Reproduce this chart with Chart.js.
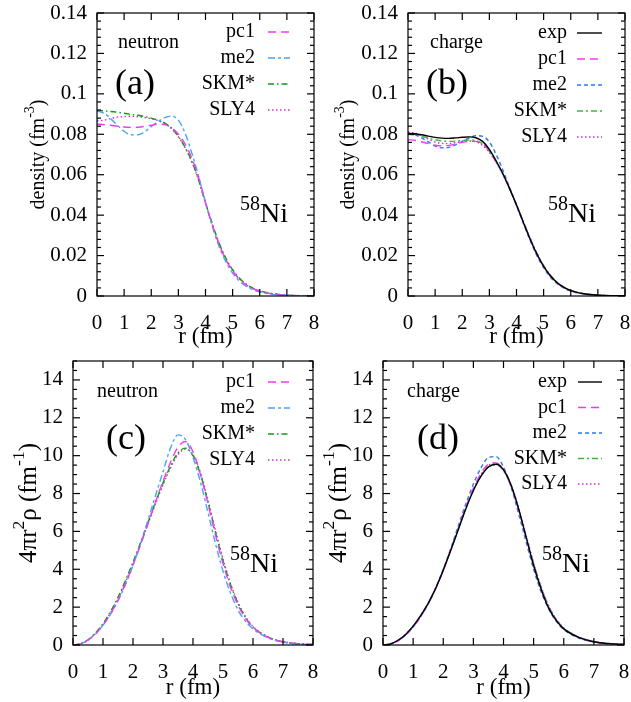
<!DOCTYPE html>
<html>
<head>
<meta charset="utf-8">
<script src="https://cdn.jsdelivr.net/npm/chart.js@4.4.1/dist/chart.umd.min.js"></script>
<style>
  body { margin: 0; background: #fff; }
  #wrap { position: relative; width: 631px; height: 702px; }
  canvas { position: absolute; }
</style>
</head>
<body>
<div id="wrap">
  <canvas id="pa" width="326" height="351" style="left:0;top:0"></canvas>
  <canvas id="pb" width="315" height="351" style="left:316px;top:0"></canvas>
  <canvas id="pc" width="326" height="351" style="left:0;top:351px"></canvas>
  <canvas id="pd" width="315" height="351" style="left:316px;top:351px"></canvas>
</div>
<script>
// radius grid (fm)
const r = [0, 0.25, 0.5, 0.75, 1, 1.25, 1.5, 1.75, 2, 2.25, 2.5, 2.75, 3, 3.25, 3.5, 3.75,
           4, 4.25, 4.5, 4.75, 5, 5.25, 5.5, 5.75, 6, 6.5, 7, 7.5, 8];

// (a) neutron density
const aPc1 = [0.0850, 0.0848, 0.0845, 0.0840, 0.0836, 0.0834, 0.0835, 0.0839, 0.0845, 0.0850, 0.0848, 0.0832, 0.0800, 0.0752, 0.0680, 0.0585,
              0.0462, 0.0352, 0.0255, 0.0180, 0.0123, 0.0083, 0.0055, 0.0036, 0.0023, 0.0009, 0.00035, 0.00013, 0.00005];
const aMe2 = [0.0915, 0.0905, 0.0878, 0.0845, 0.0815, 0.0798, 0.0797, 0.0812, 0.0838, 0.0863, 0.0882, 0.0890, 0.0870, 0.0805, 0.0705, 0.0590,
              0.0462, 0.0345, 0.0245, 0.0170, 0.0113, 0.0074, 0.0048, 0.0031, 0.0020, 0.0008, 0.0003, 0.0001, 0.00004];
const aSkm = [0.0917, 0.0916, 0.0913, 0.0909, 0.0904, 0.0899, 0.0894, 0.0888, 0.0880, 0.0870, 0.0855, 0.0830, 0.0790, 0.0735, 0.0665, 0.0572,
              0.0460, 0.0357, 0.0262, 0.0187, 0.0130, 0.0088, 0.0059, 0.0039, 0.0026, 0.0011, 0.00045, 0.00018, 0.00007];
const aSly4 = [0.0866, 0.0870, 0.0878, 0.0885, 0.0888, 0.0889, 0.0887, 0.0883, 0.0877, 0.0868, 0.0853, 0.0828, 0.0788, 0.0732, 0.0662, 0.0570,
               0.0460, 0.0355, 0.0260, 0.0185, 0.0127, 0.0086, 0.0057, 0.0037, 0.0024, 0.0010, 0.0004, 0.00015, 0.00006];

// (b) charge density
const bExp = [0.0805, 0.0803, 0.0798, 0.0791, 0.0785, 0.0781, 0.0780, 0.0782, 0.0785, 0.0787, 0.0783, 0.0765, 0.0725, 0.0668, 0.0605, 0.0530,
              0.0450, 0.0365, 0.0282, 0.0208, 0.0147, 0.0100, 0.0066, 0.0043, 0.0027, 0.0011, 0.0004, 0.00016, 0.00006];
const bPc1 = [0.0773, 0.0770, 0.0763, 0.0754, 0.0746, 0.0743, 0.0745, 0.0752, 0.0760, 0.0765, 0.0765, 0.0752, 0.0718, 0.0665, 0.0603, 0.0530,
              0.0450, 0.0366, 0.0283, 0.0208, 0.0146, 0.0098, 0.0064, 0.0041, 0.0026, 0.0010, 0.0004, 0.00015, 0.00005];
const bMe2 = [0.0805, 0.0798, 0.0782, 0.0762, 0.0742, 0.0733, 0.0735, 0.0748, 0.0765, 0.0782, 0.0793, 0.0790, 0.0762, 0.0700, 0.0622, 0.0535,
              0.0447, 0.0360, 0.0276, 0.0200, 0.0140, 0.0093, 0.0061, 0.0039, 0.0025, 0.0010, 0.0004, 0.00014, 0.00005];
const bSkm = [0.0800, 0.0797, 0.0790, 0.0781, 0.0773, 0.0767, 0.0765, 0.0766, 0.0769, 0.0772, 0.0769, 0.0752, 0.0716, 0.0663, 0.0602, 0.0531,
              0.0452, 0.0369, 0.0287, 0.0213, 0.0151, 0.0103, 0.0068, 0.0044, 0.0028, 0.0011, 0.00045, 0.00018, 0.00007];
const bSly4 = [0.0812, 0.0806, 0.0792, 0.0776, 0.0762, 0.0755, 0.0754, 0.0758, 0.0764, 0.0767, 0.0763, 0.0745, 0.0710, 0.0660, 0.0600, 0.0530,
               0.0451, 0.0368, 0.0286, 0.0212, 0.0150, 0.0102, 0.0067, 0.0043, 0.0028, 0.0011, 0.00045, 0.00017, 0.00006];

// (c) neutron 4 pi r^2 rho
const cPc1 = [0, 0.06, 0.25, 0.58, 1.05, 1.65, 2.38, 3.25, 4.22, 5.28, 6.40, 7.55, 8.65, 9.65, 10.45, 10.75,
              10.20, 9.0, 7.45, 5.8, 4.3, 3.05, 2.1, 1.4, 0.93, 0.40, 0.16, 0.06, 0.02];
const cMe2 = [0, 0.07, 0.27, 0.6, 1.05, 1.62, 2.33, 3.2, 4.2, 5.35, 6.6, 7.9, 9.15, 10.4, 11.1, 10.85,
              9.9, 8.6, 7.0, 5.35, 3.9, 2.75, 1.85, 1.25, 0.85, 0.38, 0.15, 0.06, 0.02];
const cSkm = [0, 0.07, 0.28, 0.64, 1.13, 1.76, 2.52, 3.40, 4.38, 5.40, 6.47, 7.55, 8.55, 9.45, 10.15, 10.40,
              10.0, 9.0, 7.55, 5.95, 4.45, 3.20, 2.20, 1.45, 0.95, 0.42, 0.17, 0.07, 0.03];
const cSly4 = [0, 0.06, 0.26, 0.6, 1.08, 1.7, 2.45, 3.33, 4.3, 5.33, 6.4, 7.45, 8.45, 9.35, 10.05, 10.35,
               10.05, 9.1, 7.65, 6.05, 4.55, 3.25, 2.25, 1.5, 0.98, 0.43, 0.18, 0.07, 0.03];

// (d) charge 4 pi r^2 rho
const dExp = [0, 0.06, 0.25, 0.56, 1.0, 1.55, 2.2, 3.0, 3.95, 5.0, 6.1, 7.2, 8.15, 8.9, 9.4, 9.55,
              9.25, 8.45, 7.2, 5.7, 4.2, 2.95, 1.95, 1.3, 0.85, 0.4, 0.17, 0.07, 0.03];
const dPc1 = [0, 0.05, 0.22, 0.52, 0.95, 1.5, 2.17, 2.97, 3.95, 5.02, 6.15, 7.28, 8.28, 9.05, 9.55, 9.62,
              9.25, 8.4, 7.15, 5.7, 4.25, 3.0, 2.0, 1.33, 0.87, 0.4, 0.17, 0.07, 0.03];
const dMe2 = [0, 0.05, 0.22, 0.52, 0.95, 1.5, 2.18, 3.0, 4.0, 5.1, 6.3, 7.45, 8.5, 9.35, 9.9, 9.95,
              9.4, 8.35, 6.95, 5.45, 4.0, 2.8, 1.9, 1.25, 0.82, 0.37, 0.16, 0.06, 0.02];
const dSkm = [0, 0.06, 0.25, 0.56, 1.0, 1.55, 2.22, 3.02, 3.98, 5.03, 6.13, 7.22, 8.2, 8.95, 9.42, 9.52,
              9.2, 8.4, 7.2, 5.75, 4.3, 3.05, 2.05, 1.35, 0.9, 0.42, 0.18, 0.08, 0.03];
const dSly4 = [0, 0.06, 0.24, 0.55, 0.99, 1.54, 2.2, 3.0, 3.97, 5.02, 6.13, 7.23, 8.22, 9.0, 9.48, 9.6,
               9.28, 8.48, 7.25, 5.8, 4.33, 3.07, 2.07, 1.37, 0.9, 0.42, 0.18, 0.08, 0.03];

// tick values
const xTicks = [0, 1, 2, 3, 4, 5, 6, 7, 8];
const densTicks = [0, 0.02, 0.04, 0.06, 0.08, 0.1, 0.12, 0.14];
const radTicks = [0, 2, 4, 6, 8, 10, 12, 14];

const SERIF = '"Liberation Serif", "Times New Roman", serif';

// line styles
const st = {
  exp:  { color: '#000000', dash: [] },
  pc1:  { color: '#f03cf0', dash: [8, 5] },
  me2a: { color: '#4aa3f5', dash: [7, 3, 3, 3] },
  me2b: { color: '#2a7ae8', dash: [4, 3] },
  skma: { color: '#109a10', dash: [6, 3, 1.5, 3] },
  skmb: { color: '#38bb38', dash: [6, 3, 2, 3] },
  sly4: { color: '#cc30cc', dash: [1.5, 2.5] }
};

function series(label, vals, s) {
  return {
    label: label,
    data: r.map((x, i) => ({ x: x, y: vals[i] })),
    borderColor: s.color,
    borderDash: s.dash,
    borderWidth: 1.4,
    pointRadius: 0,
    fill: false,
    cubicInterpolationMode: 'monotone'
  };
}

function font(sz) { return sz + 'px ' + SERIF; }

// text with superscript, left aligned at x, baseline y
function supText(ctx, parts, x, y, size) {
  let cx = x;
  parts.forEach(p => {
    const sz = p.sup ? size * 0.7 : size;
    ctx.font = font(sz);
    ctx.fillText(p.t, cx, p.sup ? y - size * 0.42 : y);
    cx += ctx.measureText(p.t).width;
  });
  return cx - x;
}
function partsWidth(ctx, parts, size) {
  let w = 0;
  parts.forEach(p => { ctx.font = font(p.sup ? size * 0.7 : size); w += ctx.measureText(p.t).width; });
  return w;
}

const decor = {
  id: 'decor',
  afterDraw(chart) {
    const p = chart.options.plugins.decor;
    const { ctx, chartArea: ca } = chart;
    const xs = chart.scales.x, ys = chart.scales.y;
    ctx.save();
    ctx.strokeStyle = '#000';
    ctx.lineWidth = 1.2;
    ctx.setLineDash([]);
    const seg = (x0, y0, x1, y1) => { ctx.beginPath(); ctx.moveTo(x0, y0); ctx.lineTo(x1, y1); ctx.stroke(); };
    xTicks.forEach(v => {
      const px = xs.getPixelForValue(v);
      seg(px, ca.bottom, px, ca.bottom - 7);
      seg(px, ca.top, px, ca.top + 7);
    });
    for (let i = 0; i * p.minor <= ys.max + 1e-9; i++) {
      const py = ys.getPixelForValue(i * p.minor);
      const len = (i % p.perMajor === 0) ? 7 : 4;
      seg(ca.left, py, ca.left + len, py);
      seg(ca.right, py, ca.right - len, py);
    }
    ctx.strokeRect(ca.left, ca.top, ca.right - ca.left, ca.bottom - ca.top);

    ctx.fillStyle = '#000';
    // y title, rotated
    ctx.save();
    ctx.translate(p.yTitle.x, (ca.top + ca.bottom) / 2);
    ctx.rotate(-Math.PI / 2);
    ctx.textBaseline = 'middle';
    ctx.textAlign = 'left';
    const w = partsWidth(ctx, p.yTitle.parts, p.yTitle.size);
    supText(ctx, p.yTitle.parts, -w / 2, p.yTitle.size * 0.3, p.yTitle.size);
    ctx.restore();

    ctx.textBaseline = 'middle';
    ctx.textAlign = 'left';
    ctx.font = font(20);
    ctx.fillText(p.kind, p.kindPos[0], p.kindPos[1]);
    ctx.textAlign = 'center';
    ctx.font = font(36);
    ctx.fillText(p.tag, p.tagPos[0], p.tagPos[1]);

    // nucleus label
    ctx.textAlign = 'left';
    ctx.textBaseline = 'alphabetic';
    ctx.font = font(20);
    ctx.fillText('58', p.nuc[0], p.nuc[1] - 12);
    const w58 = ctx.measureText('58').width;
    ctx.font = font(28);
    ctx.fillText('Ni', p.nuc[0] + w58, p.nuc[1]);

    // key
    ctx.textBaseline = 'middle';
    ctx.font = font(20);
    chart.data.datasets.forEach((ds, i) => {
      const yy = p.key.y0 + i * p.key.dy;
      ctx.textAlign = 'right';
      ctx.fillStyle = '#000';
      ctx.fillText(ds.label, p.key.tx, yy);
      ctx.strokeStyle = ds.borderColor;
      ctx.lineWidth = 1.4;
      ctx.setLineDash(ds.borderDash);
      seg(p.key.s0, yy, p.key.s1, yy);
    });
    ctx.restore();
  }
};

function panel(id, datasets, o) {
  new Chart(document.getElementById(id), {
    type: 'line',
    data: { datasets: datasets },
    options: {
      responsive: false,
      animation: false,
      devicePixelRatio: 1,
      layout: { padding: { left: 0, right: o.padRight, top: o.padTop, bottom: 0 } },
      plugins: { legend: { display: false }, tooltip: { enabled: false }, decor: o.decor },
      scales: {
        x: {
          type: 'linear', min: 0, max: 8,
          grid: { display: false, drawTicks: false },
          border: { display: false },
          afterBuildTicks: s => { s.ticks = xTicks.map(v => ({ value: v })); },
          afterFit: s => { s.height = o.xHeight; s.paddingLeft = 0; s.paddingRight = 0; },
          ticks: { color: '#000', font: { family: SERIF, size: 21 }, padding: 15, maxRotation: 0 },
          title: { display: true, text: 'r (fm)', color: '#000', font: { family: SERIF, size: 23 }, padding: 0 }
        },
        y: {
          type: 'linear', min: 0, max: o.yMax,
          grid: { display: false, drawTicks: false },
          border: { display: false },
          afterBuildTicks: s => { s.ticks = o.yTicks.map(v => ({ value: v })); },
          afterFit: s => { s.width = o.yWidth; s.paddingTop = 0; s.paddingBottom = 0; },
          ticks: { color: '#000', font: { family: SERIF, size: 21 }, padding: 10,
                   callback: v => String(+v.toFixed(2)) }
        }
      }
    },
    plugins: [decor]
  });
}

const densTitle = [{ t: 'density (fm' }, { t: '-3', sup: true }, { t: ')' }];
const radTitle = [{ t: '4\u03c0r' }, { t: '2', sup: true }, { t: '\u03c1 (fm' }, { t: '-1', sup: true }, { t: ')' }];

panel('pa', [
  series('pc1', aPc1, st.pc1),
  series('me2', aMe2, st.me2a),
  series('SKM*', aSkm, st.skma),
  series('SLY4', aSly4, st.sly4)
], {
  padRight: 12, padTop: 13, yWidth: 97, xHeight: 55, yMax: 0.14, yTicks: densTicks,
  decor: { minor: 0.004, perMajor: 5, yTitle: { parts: densTitle, size: 20, x: 33 },
           kind: 'neutron', kindPos: [118, 43], tag: '(a)', tagPos: [135, 85], nuc: [240, 222],
           key: { y0: 32, dy: 26, tx: 255, s0: 268, s1: 290 } }
});

panel('pb', [
  series('exp', bExp, st.exp),
  series('pc1', bPc1, st.pc1),
  series('me2', bMe2, st.me2b),
  series('SKM*', bSkm, st.skmb),
  series('SLY4', bSly4, st.sly4)
], {
  padRight: 6, padTop: 13, yWidth: 92, xHeight: 55, yMax: 0.14, yTicks: densTicks,
  decor: { minor: 0.004, perMajor: 5, yTitle: { parts: densTitle, size: 20, x: 27 },
           kind: 'charge', kindPos: [114, 43], tag: '(b)', tagPos: [131, 85], nuc: [232, 222],
           key: { y0: 33, dy: 26, tx: 251, s0: 261, s1: 286 } }
});

panel('pc', [
  series('pc1', cPc1, st.pc1),
  series('me2', cMe2, st.me2a),
  series('SKM*', cSkm, st.skma),
  series('SLY4', cSly4, st.sly4)
], {
  padRight: 13, padTop: 10, yWidth: 73, xHeight: 57, yMax: 15, yTicks: radTicks,
  decor: { minor: 0.5, perMajor: 4, yTitle: { parts: radTitle, size: 25, x: 22 },
           kind: 'neutron', kindPos: [97, 41], tag: '(c)', tagPos: [126, 89], nuc: [230, 221],
           key: { y0: 31, dy: 26, tx: 255, s0: 268, s1: 290 } }
});

panel('pd', [
  series('exp', dExp, st.exp),
  series('pc1', dPc1, st.pc1),
  series('me2', dMe2, st.me2b),
  series('SKM*', dSkm, st.skmb),
  series('SLY4', dSly4, st.sly4)
], {
  padRight: 7, padTop: 10, yWidth: 67, xHeight: 57, yMax: 15, yTicks: radTicks,
  decor: { minor: 0.5, perMajor: 4, yTitle: { parts: radTitle, size: 25, x: 16 },
           kind: 'charge', kindPos: [91, 41], tag: '(d)', tagPos: [122, 89], nuc: [226, 221],
           key: { y0: 31, dy: 25.5, tx: 251, s0: 262, s1: 286 } }
});
</script>
</body>
</html>
